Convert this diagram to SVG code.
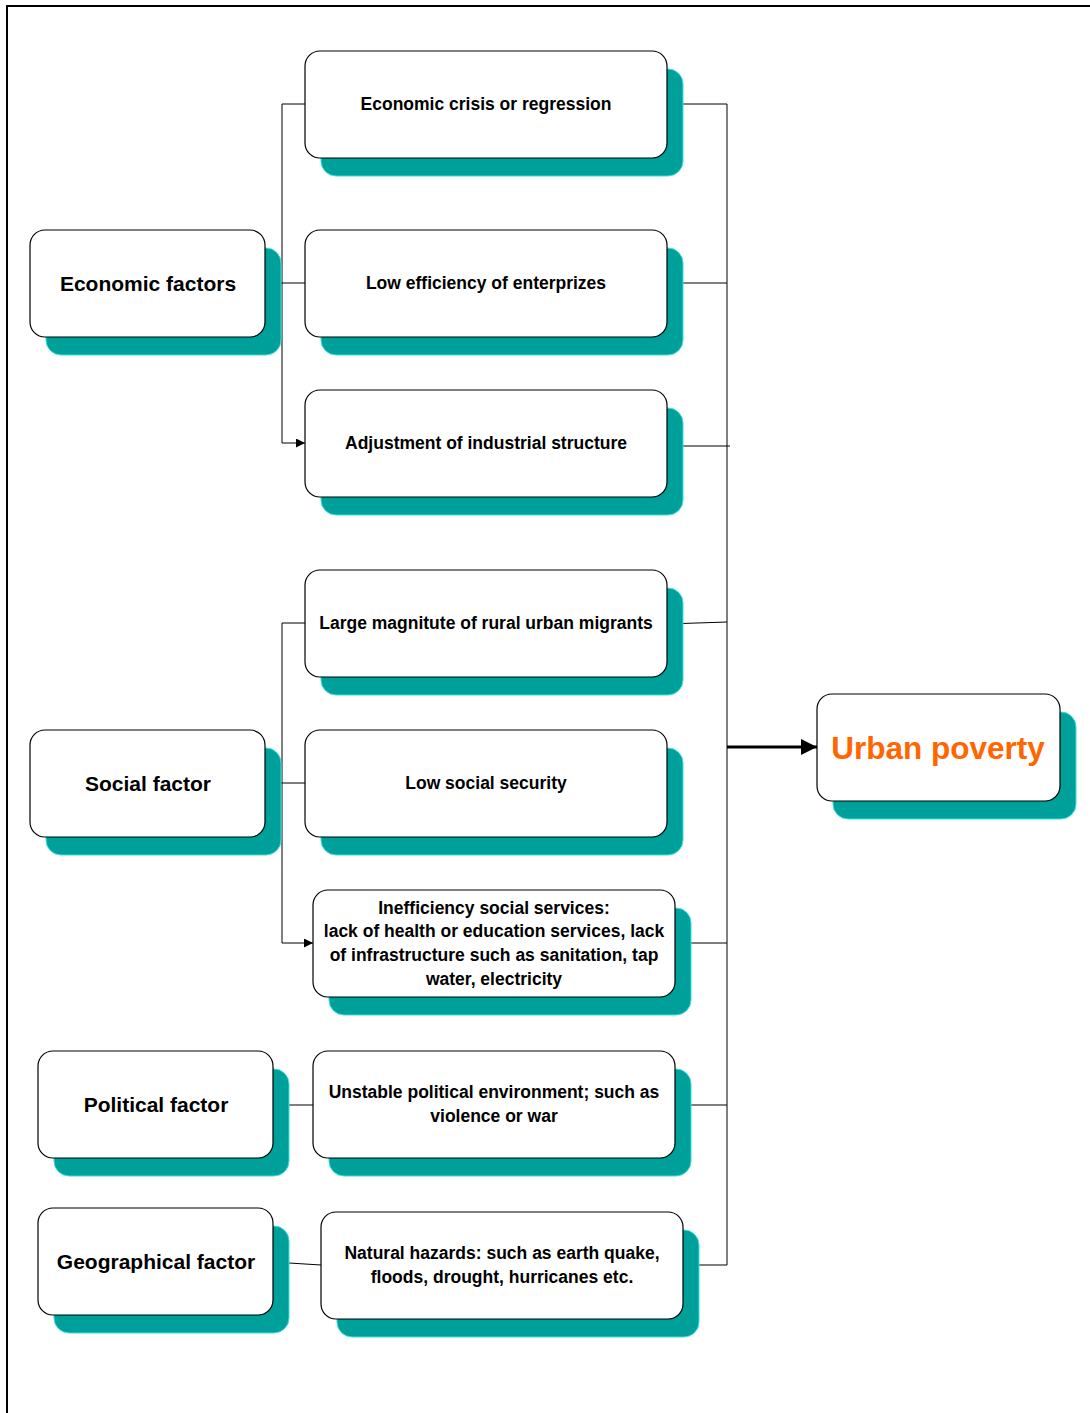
<svg xmlns="http://www.w3.org/2000/svg" width="1090" height="1413" viewBox="0 0 1090 1413">
<defs>
<style>
.sh{fill:#00A09A;stroke:#33E0E0;stroke-width:1}
.bx{fill:#fff;stroke:#000;stroke-width:1.2}
.t{font-family:"Liberation Sans",Arial,sans-serif;font-weight:bold;fill:#000;text-anchor:middle}
.s{font-size:17.5px}
.b{font-size:21px}
.c{fill:none;stroke:#000;stroke-width:1}
</style>
<marker id="ar" viewBox="0 0 10 10" refX="10" refY="5" markerWidth="9" markerHeight="9" markerUnits="userSpaceOnUse" orient="auto"><path d="M0,0L10,5L0,10z" fill="#000"/></marker>
<marker id="ab" viewBox="0 0 10 10" refX="10" refY="5" markerWidth="16" markerHeight="16" markerUnits="userSpaceOnUse" orient="auto"><path d="M0,0L10,5L0,10z" fill="#000"/></marker>
</defs>
<rect x="0" y="0" width="1090" height="1413" fill="#fff"/>
<path d="M7,1413V6H1090" fill="none" stroke="#000" stroke-width="2"/>

<g id="connectors">
<path class="c" d="M305,104H282V443"/>
<path class="c" d="M265,283H305"/>
<path class="c" d="M282,443H305" marker-end="url(#ar)"/>
<path class="c" d="M305,623H282V943"/>
<path class="c" d="M265,783H305"/>
<path class="c" d="M282,943H313" marker-end="url(#ar)"/>
<path class="c" d="M273,1105H313"/>
<path class="c" d="M273,1262L321,1265"/>
<path class="c" d="M667,104H727V1265H683"/>
<path class="c" d="M667,283H727"/>
<path class="c" d="M667,446H730"/>
<path class="c" d="M667,624L727,622"/>
<path class="c" d="M675,943H727"/>
<path class="c" d="M675,1105H727"/>
<path d="M727,747H817" fill="none" stroke="#000" stroke-width="3" marker-end="url(#ab)"/>
</g>

<g id="economic-factors">
<rect class="sh" x="46" y="248" width="235" height="107" rx="15"/>
<rect class="bx" x="30" y="230" width="235" height="107" rx="15"/>
<text class="t b" x="148" y="291">Economic factors</text>
</g>
<g id="economic-crisis">
<rect class="sh" x="321" y="69" width="362" height="107" rx="15"/>
<rect class="bx" x="305" y="51" width="362" height="107" rx="15"/>
<text class="t s" x="486" y="110">Economic crisis or regression</text>
</g>
<g id="low-efficiency">
<rect class="sh" x="321" y="248" width="362" height="107" rx="15"/>
<rect class="bx" x="305" y="230" width="362" height="107" rx="15"/>
<text class="t s" x="486" y="289">Low efficiency of enterprizes</text>
</g>
<g id="adjustment">
<rect class="sh" x="321" y="408" width="362" height="107" rx="15"/>
<rect class="bx" x="305" y="390" width="362" height="107" rx="15"/>
<text class="t s" x="486" y="449">Adjustment of industrial structure</text>
</g>
<g id="rural-migrants">
<rect class="sh" x="321" y="588" width="362" height="107" rx="15"/>
<rect class="bx" x="305" y="570" width="362" height="107" rx="15"/>
<text class="t s" x="486" y="629">Large magnitute of rural urban migrants</text>
</g>
<g id="social-factor">
<rect class="sh" x="46" y="748" width="235" height="107" rx="15"/>
<rect class="bx" x="30" y="730" width="235" height="107" rx="15"/>
<text class="t b" x="148" y="791">Social factor</text>
</g>
<g id="low-social-security">
<rect class="sh" x="321" y="748" width="362" height="107" rx="15"/>
<rect class="bx" x="305" y="730" width="362" height="107" rx="15"/>
<text class="t s" x="486" y="789">Low social security</text>
</g>
<g id="inefficiency-services">
<rect class="sh" x="329" y="908" width="362" height="107" rx="15"/>
<rect class="bx" x="313" y="890" width="362" height="107" rx="15"/>
<text class="t s" x="494" y="914">Inefficiency social services:</text>
<text class="t s" x="494" y="937">lack of health or education services, lack</text>
<text class="t s" x="494" y="961">of infrastructure such as sanitation, tap</text>
<text class="t s" x="494" y="985">water, electricity</text>
</g>
<g id="political-factor">
<rect class="sh" x="54" y="1069" width="235" height="107" rx="15"/>
<rect class="bx" x="38" y="1051" width="235" height="107" rx="15"/>
<text class="t b" x="156" y="1112">Political factor</text>
</g>
<g id="unstable-political">
<rect class="sh" x="329" y="1069" width="362" height="107" rx="15"/>
<rect class="bx" x="313" y="1051" width="362" height="107" rx="15"/>
<text class="t s" x="494" y="1098">Unstable political environment; such as</text>
<text class="t s" x="494" y="1122">violence or war</text>
</g>
<g id="geographical-factor">
<rect class="sh" x="54" y="1226" width="235" height="107" rx="15"/>
<rect class="bx" x="38" y="1208" width="235" height="107" rx="15"/>
<text class="t b" x="156" y="1269">Geographical factor</text>
</g>
<g id="natural-hazards">
<rect class="sh" x="337" y="1230" width="362" height="107" rx="15"/>
<rect class="bx" x="321" y="1212" width="362" height="107" rx="15"/>
<text class="t s" x="502" y="1259">Natural hazards: such as earth quake,</text>
<text class="t s" x="502" y="1283">floods, drought, hurricanes etc.</text>
</g>
<g id="urban-poverty">
<rect class="sh" x="833" y="712" width="243" height="107" rx="15"/>
<rect class="bx" x="817" y="694" width="243" height="107" rx="15"/>
<text class="t" x="938" y="759" style="font-size:31.5px;fill:#FF6600">Urban poverty</text>
</g>
</svg>
